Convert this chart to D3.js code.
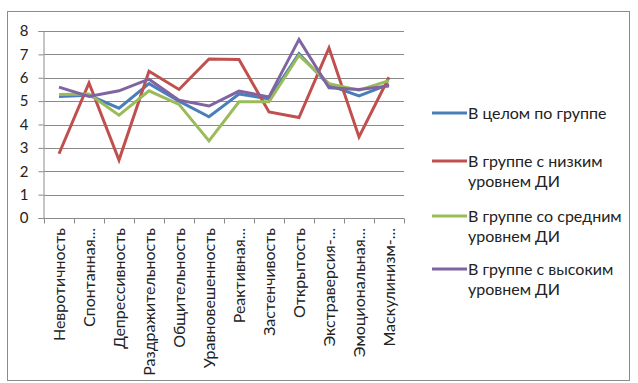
<!DOCTYPE html>
<html>
<head>
<meta charset="utf-8">
<script src="https://cdn.jsdelivr.net/npm/d3@7"></script>
<style>
  html, body { margin: 0; padding: 0; background: #fff; }
  svg { display: block; font-family: "Lato", "Open Sans", sans-serif; }
</style>
</head>
<body>
<svg id="chart" width="638" height="383"></svg>
<script>
// Шкалы личностного опросника
const categories = [
  "Невротичность", "Спонтанная...", "Депрессивность", "Раздражительность",
  "Общительность", "Уравновешенность", "Реактивная...", "Застенчивость",
  "Открытость", "Экстраверсия-...", "Эмоциональная...", "Маскулинизм-..."
];

const seriesNames = [
  "В целом по группе",
  "В группе с низким уровнем ДИ",
  "В группе со средним уровнем ДИ",
  "В группе с высоким уровнем ДИ"
];

const valuesTotal  = [5.2, 5.25, 4.7, 5.75, 5.0, 4.33, 5.3, 5.1, 7.03, 5.68, 5.22, 5.72];
const valuesLow    = [2.75, 5.78, 2.48, 6.28, 5.5, 6.8, 6.78, 4.54, 4.3, 7.28, 3.47, 6.02];
const valuesMiddle = [5.28, 5.3, 4.4, 5.44, 4.86, 3.3, 4.97, 4.97, 6.96, 5.75, 5.47, 5.88];
const valuesHigh   = [5.6, 5.2, 5.44, 5.94, 5.04, 4.79, 5.43, 5.18, 7.64, 5.57, 5.5, 5.65];

const yTicks = [0, 1, 2, 3, 4, 5, 6, 7, 8];

const colors = ["#4a7ebb", "#c0504d", "#9bbb59", "#8064a2"];
const legendLines = [
  ["В целом по группе"],
  ["В группе с низким", "уровнем ДИ"],
  ["В группе со средним", "уровнем ДИ"],
  ["В группе с высоким", "уровнем ДИ"]
];

const series = [valuesTotal, valuesLow, valuesMiddle, valuesHigh];

const svg = d3.select("#chart");

// рамка области диаграммы
svg.append("rect")
  .attr("x", 7.5).attr("y", 11.5)
  .attr("width", 622).attr("height", 369)
  .attr("fill", "#fff").attr("stroke", "#8c8c8c").attr("stroke-width", 1);

const plot = { left: 44, right: 404, top: 31, bottom: 218 };

const x = d3.scaleBand().domain(categories).range([plot.left, plot.right]).padding(0);
const y = d3.scaleLinear().domain([0, 8]).range([plot.bottom, plot.top]);

// горизонтальная сетка
svg.append("g").selectAll("line").data(yTicks.slice(1)).join("line")
  .attr("x1", plot.left).attr("x2", plot.right)
  .attr("y1", d => Math.round(y(d)) + 0.5).attr("y2", d => Math.round(y(d)) + 0.5)
  .attr("stroke", "#8a8a8a").attr("stroke-width", 1);

// ось Y
const yAxis = svg.append("g")
  .attr("transform", `translate(${plot.left - 0.5},0)`)
  .call(d3.axisLeft(y).tickValues(yTicks).tickSize(5).tickPadding(10).tickFormat(d3.format("d")));
yAxis.select(".domain").attr("stroke", "#8a8a8a");
yAxis.selectAll(".tick line").attr("stroke", "#8a8a8a");
yAxis.selectAll("text")
  .attr("font-family", "Lato, sans-serif").attr("font-size", 15).attr("fill", "#222");

// ось X: деления на границах категорий
const xAxis = svg.append("g").attr("transform", `translate(0,${plot.bottom + 0.5})`);
xAxis.append("line")
  .attr("x1", plot.left).attr("x2", plot.right)
  .attr("stroke", "#8a8a8a");
const bounds = categories.map(c => x(c)).concat([plot.right]);
xAxis.selectAll("line.tk").data(bounds).join("line").attr("class", "tk")
  .attr("x1", d => Math.round(d) + 0.5).attr("x2", d => Math.round(d) + 0.5)
  .attr("y1", 0).attr("y2", 5).attr("stroke", "#8a8a8a");

// подписи категорий, повернутые вертикально
svg.append("g").selectAll("text").data(categories).join("text")
  .attr("transform", d => `translate(${x(d) + x.bandwidth() / 2},${plot.bottom + 10}) rotate(-90)`)
  .attr("text-anchor", "end")
  .attr("dy", "0.35em")
  .attr("font-size", 16)
  .attr("fill", "#222")
  .text(d => d);

// линии рядов
const line = d3.line()
  .x((d, i) => x(categories[i]) + x.bandwidth() / 2)
  .y(d => y(d));

svg.append("g").selectAll("path").data(series).join("path")
  .attr("d", d => line(d))
  .attr("fill", "none")
  .attr("stroke", (d, i) => colors[i])
  .attr("stroke-width", 3)
  .attr("stroke-linejoin", "miter")
  .attr("stroke-linecap", "butt");

// легенда
const legendY = [113, 161, 216, 269];
const legend = svg.append("g");
legendLines.forEach((lines, i) => {
  const g = legend.append("g").attr("transform", `translate(432,${legendY[i]})`);
  g.append("line").attr("x1", 0).attr("x2", 35).attr("y1", 0).attr("y2", 0)
    .attr("stroke", colors[i]).attr("stroke-width", 3);
  const t = g.append("text").attr("x", 36).attr("y", 0)
    .attr("font-size", 16).attr("fill", "#222");
  lines.forEach((l, k) => {
    t.append("tspan").attr("x", 36).attr("dy", k === 0 ? "0.35em" : "1.25em").text(l);
  });
});
</script>
</body>
</html>
